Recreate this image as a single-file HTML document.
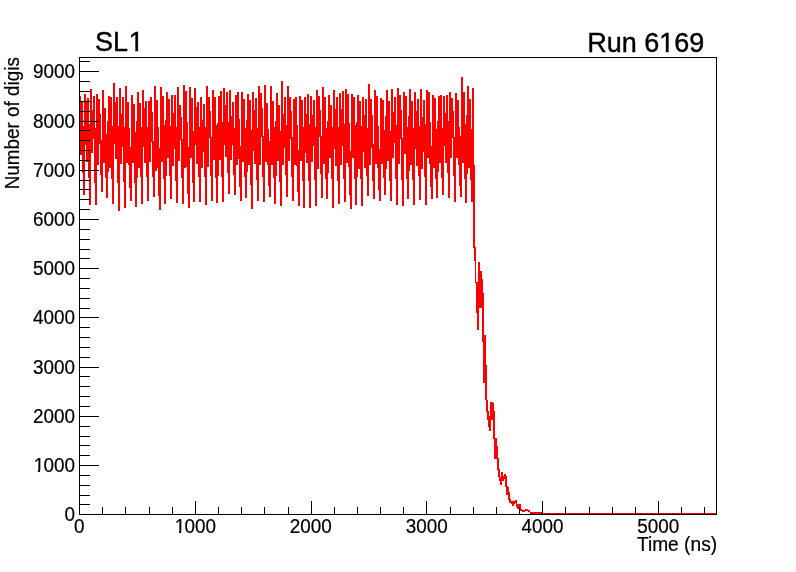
<!DOCTYPE html>
<html><head><meta charset="utf-8"><title>SL1 Run 6169</title>
<style>html,body{margin:0;padding:0;background:#fff}svg{display:block}</style>
</head><body>
<svg width="796" height="572" viewBox="0 0 796 572">
<rect width="796" height="572" fill="#fff"/>
<path fill="#ff0000" shape-rendering="crispEdges" d="M80 96h1V155h-1zM81 102h1V155h-1zM82 102h1V173h-1zM83 126h1V195h-1zM84 94h1V195h-1zM85 94h1V145h-1zM86 102h1V162h-1zM87 98h1V162h-1zM88 98h1V178h-1zM89 124h1V205h-1zM90 89h1V205h-1zM91 89h1V153h-1zM92 110h1V153h-1zM93 96h1V139h-1zM94 96h1V183h-1zM95 128h1V205h-1zM96 94h1V205h-1zM97 94h1V165h-1zM98 99h1V165h-1zM99 99h1V144h-1zM100 114h1V175h-1zM101 140h1V192h-1zM102 90h1V192h-1zM103 90h1V163h-1zM104 108h1V163h-1zM105 108h1V178h-1zM106 134h1V198h-1zM107 121h1V198h-1zM108 96h1V172h-1zM109 96h1V168h-1zM110 97h1V168h-1zM111 97h1V179h-1zM112 126h1V204h-1zM113 83h1V204h-1zM114 83h1V144h-1zM115 102h1V159h-1zM116 97h1V159h-1zM117 97h1V183h-1zM118 126h1V211h-1zM119 88h1V211h-1zM120 88h1V164h-1zM121 114h1V164h-1zM122 97h1V147h-1zM123 97h1V182h-1zM124 127h1V208h-1zM125 86h1V208h-1zM126 86h1V163h-1zM127 102h1V163h-1zM128 102h1V165h-1zM129 128h1V188h-1zM130 147h1V201h-1zM131 95h1V201h-1zM132 95h1V163h-1zM133 104h1V163h-1zM134 104h1V183h-1zM135 132h1V207h-1zM136 121h1V207h-1zM137 92h1V178h-1zM138 92h1V168h-1zM139 103h1V168h-1zM140 103h1V177h-1zM141 127h1V204h-1zM142 90h1V204h-1zM143 90h1V147h-1zM144 108h1V163h-1zM145 101h1V163h-1zM146 101h1V177h-1zM147 127h1V201h-1zM148 101h1V201h-1zM149 101h1V162h-1zM150 97h1V162h-1zM151 97h1V142h-1zM152 112h1V177h-1zM153 141h1V197h-1zM154 86h1V197h-1zM155 86h1V171h-1zM156 100h1V171h-1zM157 100h1V168h-1zM158 127h1V196h-1zM159 148h1V210h-1zM160 87h1V210h-1zM161 87h1V162h-1zM162 96h1V162h-1zM163 96h1V179h-1zM164 125h1V204h-1zM165 120h1V204h-1zM166 92h1V176h-1zM167 92h1V158h-1zM168 99h1V158h-1zM169 99h1V176h-1zM170 126h1V199h-1zM171 95h1V199h-1zM172 95h1V166h-1zM173 113h1V166h-1zM174 95h1V149h-1zM175 95h1V181h-1zM176 127h1V203h-1zM177 87h1V203h-1zM178 87h1V161h-1zM179 105h1V161h-1zM180 105h1V140h-1zM181 117h1V178h-1zM182 139h1V204h-1zM183 85h1V204h-1zM184 85h1V168h-1zM185 91h1V168h-1zM186 91h1V167h-1zM187 122h1V194h-1zM188 147h1V208h-1zM189 87h1V208h-1zM190 87h1V158h-1zM191 98h1V158h-1zM192 98h1V183h-1zM193 131h1V202h-1zM194 88h1V202h-1zM195 88h1V145h-1zM196 107h1V164h-1zM197 102h1V164h-1zM198 102h1V177h-1zM199 127h1V202h-1zM200 97h1V202h-1zM201 97h1V168h-1zM202 120h1V168h-1zM203 104h1V152h-1zM204 104h1V177h-1zM205 127h1V205h-1zM206 86h1V205h-1zM207 86h1V167h-1zM208 97h1V167h-1zM209 97h1V138h-1zM210 111h1V176h-1zM211 137h1V201h-1zM212 90h1V201h-1zM213 90h1V160h-1zM214 97h1V160h-1zM215 97h1V178h-1zM216 125h1V203h-1zM217 123h1V203h-1zM218 96h1V176h-1zM219 96h1V160h-1zM220 91h1V160h-1zM221 91h1V177h-1zM222 122h1V202h-1zM223 88h1V202h-1zM224 88h1V145h-1zM225 105h1V157h-1zM226 92h1V157h-1zM227 92h1V173h-1zM228 122h1V194h-1zM229 90h1V194h-1zM230 90h1V160h-1zM231 116h1V160h-1zM232 102h1V145h-1zM233 102h1V175h-1zM234 128h1V195h-1zM235 95h1V195h-1zM236 95h1V165h-1zM237 92h1V165h-1zM238 92h1V159h-1zM239 119h1V187h-1zM240 146h1V201h-1zM241 92h1V201h-1zM242 92h1V162h-1zM243 99h1V162h-1zM244 99h1V177h-1zM245 128h1V198h-1zM246 120h1V198h-1zM247 94h1V172h-1zM248 94h1V165h-1zM249 100h1V165h-1zM250 100h1V185h-1zM251 130h1V209h-1zM252 92h1V209h-1zM253 92h1V151h-1zM254 110h1V164h-1zM255 98h1V164h-1zM256 98h1V180h-1zM257 128h1V201h-1zM258 86h1V201h-1zM259 86h1V165h-1zM260 93h1V165h-1zM261 93h1V137h-1zM262 108h1V177h-1zM263 136h1V202h-1zM264 85h1V202h-1zM265 85h1V162h-1zM266 103h1V162h-1zM267 103h1V165h-1zM268 129h1V186h-1zM269 141h1V197h-1zM270 86h1V197h-1zM271 86h1V165h-1zM272 101h1V165h-1zM273 101h1V178h-1zM274 127h1V204h-1zM275 121h1V204h-1zM276 93h1V176h-1zM277 93h1V161h-1zM278 105h1V161h-1zM279 105h1V182h-1zM280 131h1V206h-1zM281 81h1V206h-1zM282 81h1V165h-1zM283 114h1V165h-1zM284 97h1V148h-1zM285 97h1V175h-1zM286 125h1V197h-1zM287 86h1V197h-1zM288 86h1V161h-1zM289 97h1V161h-1zM290 97h1V139h-1zM291 111h1V177h-1zM292 137h1V201h-1zM293 99h1V201h-1zM294 99h1V165h-1zM295 97h1V165h-1zM296 97h1V166h-1zM297 125h1V192h-1zM298 150h1V206h-1zM299 96h1V206h-1zM300 96h1V161h-1zM301 100h1V161h-1zM302 100h1V181h-1zM303 127h1V208h-1zM304 97h1V208h-1zM305 97h1V153h-1zM306 114h1V163h-1zM307 94h1V163h-1zM308 94h1V181h-1zM309 124h1V208h-1zM310 96h1V208h-1zM311 96h1V162h-1zM312 115h1V162h-1zM313 100h1V146h-1zM314 100h1V180h-1zM315 127h1V206h-1zM316 90h1V206h-1zM317 90h1V169h-1zM318 96h1V169h-1zM319 96h1V137h-1zM320 110h1V174h-1zM321 136h1V198h-1zM322 87h1V198h-1zM323 87h1V164h-1zM324 97h1V164h-1zM325 97h1V179h-1zM326 128h1V199h-1zM327 121h1V199h-1zM328 95h1V173h-1zM329 95h1V158h-1zM330 105h1V158h-1zM331 105h1V179h-1zM332 127h1V208h-1zM333 90h1V208h-1zM334 90h1V149h-1zM335 109h1V166h-1zM336 97h1V166h-1zM337 97h1V181h-1zM338 127h1V204h-1zM339 93h1V204h-1zM340 93h1V165h-1zM341 109h1V165h-1zM342 91h1V146h-1zM343 91h1V179h-1zM344 124h1V202h-1zM345 89h1V202h-1zM346 89h1V163h-1zM347 94h1V163h-1zM348 94h1V167h-1zM349 123h1V195h-1zM350 151h1V209h-1zM351 94h1V209h-1zM352 94h1V158h-1zM353 97h1V158h-1zM354 97h1V179h-1zM355 125h1V205h-1zM356 122h1V205h-1zM357 95h1V177h-1zM358 95h1V169h-1zM359 101h1V169h-1zM360 101h1V179h-1zM361 126h1V206h-1zM362 97h1V206h-1zM363 97h1V152h-1zM364 115h1V168h-1zM365 99h1V168h-1zM366 99h1V176h-1zM367 128h1V196h-1zM368 84h1V196h-1zM369 84h1V165h-1zM370 99h1V165h-1zM371 99h1V148h-1zM372 115h1V181h-1zM373 144h1V199h-1zM374 90h1V199h-1zM375 90h1V164h-1zM376 96h1V164h-1zM377 96h1V168h-1zM378 126h1V190h-1zM379 149h1V201h-1zM380 98h1V201h-1zM381 98h1V164h-1zM382 100h1V164h-1zM383 100h1V178h-1zM384 130h1V195h-1zM385 116h1V195h-1zM386 90h1V169h-1zM387 90h1V161h-1zM388 101h1V161h-1zM389 101h1V181h-1zM390 131h1V201h-1zM391 89h1V201h-1zM392 89h1V158h-1zM393 112h1V158h-1zM394 97h1V143h-1zM395 97h1V179h-1zM396 125h1V205h-1zM397 88h1V205h-1zM398 88h1V164h-1zM399 95h1V164h-1zM400 95h1V139h-1zM401 110h1V180h-1zM402 138h1V206h-1zM403 92h1V206h-1zM404 92h1V154h-1zM405 96h1V154h-1zM406 96h1V179h-1zM407 127h1V199h-1zM408 116h1V199h-1zM409 89h1V171h-1zM410 89h1V165h-1zM411 101h1V165h-1zM412 101h1V180h-1zM413 128h1V205h-1zM414 92h1V205h-1zM415 92h1V149h-1zM416 111h1V166h-1zM417 99h1V166h-1zM418 99h1V176h-1zM419 126h1V200h-1zM420 89h1V200h-1zM421 89h1V169h-1zM422 117h1V169h-1zM423 100h1V152h-1zM424 100h1V177h-1zM425 124h1V205h-1zM426 90h1V205h-1zM427 90h1V158h-1zM428 92h1V158h-1zM429 92h1V164h-1zM430 122h1V187h-1zM431 146h1V199h-1zM432 95h1V199h-1zM433 95h1V168h-1zM434 98h1V168h-1zM435 98h1V179h-1zM436 129h1V198h-1zM437 121h1V198h-1zM438 96h1V172h-1zM439 96h1V163h-1zM440 95h1V163h-1zM441 95h1V178h-1zM442 128h1V195h-1zM443 96h1V195h-1zM444 96h1V146h-1zM445 113h1V163h-1zM446 95h1V163h-1zM447 95h1V173h-1zM448 121h1V198h-1zM449 92h1V198h-1zM450 92h1V158h-1zM451 98h1V158h-1zM452 98h1V138h-1zM453 111h1V176h-1zM454 137h1V202h-1zM455 93h1V202h-1zM456 93h1V158h-1zM457 100h1V158h-1zM458 100h1V165h-1zM459 127h1V186h-1zM460 136h1V197h-1zM461 77h1V197h-1zM462 77h1V163h-1zM463 92h1V163h-1zM464 92h1V179h-1zM465 124h1V203h-1zM466 115h1V203h-1zM467 86h1V174h-1zM468 86h1V168h-1zM469 99h1V168h-1zM470 99h1V180h-1zM471 129h1V202h-1zM472 88h1V202h-1zM473 88h1V248h-1zM474 165h1V261h-1zM475 247h1V283h-1zM476 282h1V313h-1zM477 282h1V330h-1zM478 262h1V330h-1zM479 262h1V308h-1zM480 271h2V308h-2zM482 279h1V342h-1zM483 293h1V383h-1zM484 335h1V383h-1zM485 335h1V400h-1zM486 365h1V412h-1zM487 400h1V420h-1zM488 411h1V427h-1zM489 416h1V431h-1zM490 402h1V431h-1zM491 402h2V420h-2zM493 403h1V439h-1zM494 411h1V459h-1zM495 438h2V459h-2zM497 446h1V470h-1zM498 458h1V477h-1zM499 469h1V481h-1zM500 477h1V485h-1zM501 472h1V485h-1zM502 472h1V481h-1zM503 476h1V481h-1zM504 474h1V479h-1zM505 474h1V487h-1zM506 476h1V495h-1zM507 486h1V495h-1zM508 487h1V500h-1zM509 492h1V503h-1zM510 499h1V503h-1zM511 501h1V504h-1zM512 501h2V506h-2zM514 501h1V504h-1zM515 500h1V503h-1zM516 500h1V507h-1zM517 504h2V509h-2zM519 504h1V507h-1zM520 504h1V511h-1zM521 509h1V511h-1zM522 510h3V512h-3zM525 509h3V511h-3zM528 510h2V512h-2zM530 512h12V514h-12zM542 513h175V514h-175z"/>
<g fill="#000" shape-rendering="crispEdges">
<rect x="79" y="57" width="638" height="1"/>
<rect x="79" y="514" width="638" height="1"/>
<rect x="79" y="57" width="1" height="458"/>
<rect x="716" y="57" width="1" height="458"/>
<rect x="102" y="507" width="1" height="7"/>
<rect x="125" y="507" width="1" height="7"/>
<rect x="149" y="507" width="1" height="7"/>
<rect x="172" y="507" width="1" height="7"/>
<rect x="195" y="501" width="1" height="13"/>
<rect x="218" y="507" width="1" height="7"/>
<rect x="241" y="507" width="1" height="7"/>
<rect x="264" y="507" width="1" height="7"/>
<rect x="288" y="507" width="1" height="7"/>
<rect x="311" y="501" width="1" height="13"/>
<rect x="334" y="507" width="1" height="7"/>
<rect x="357" y="507" width="1" height="7"/>
<rect x="380" y="507" width="1" height="7"/>
<rect x="403" y="507" width="1" height="7"/>
<rect x="426" y="501" width="1" height="13"/>
<rect x="450" y="507" width="1" height="7"/>
<rect x="473" y="507" width="1" height="7"/>
<rect x="496" y="507" width="1" height="7"/>
<rect x="519" y="507" width="1" height="7"/>
<rect x="542" y="501" width="1" height="13"/>
<rect x="565" y="507" width="1" height="7"/>
<rect x="589" y="507" width="1" height="7"/>
<rect x="612" y="507" width="1" height="7"/>
<rect x="635" y="507" width="1" height="7"/>
<rect x="658" y="501" width="1" height="13"/>
<rect x="681" y="507" width="1" height="7"/>
<rect x="704" y="507" width="1" height="7"/>
<rect x="79" y="504" width="11" height="1"/>
<rect x="79" y="495" width="11" height="1"/>
<rect x="79" y="485" width="11" height="1"/>
<rect x="79" y="475" width="11" height="1"/>
<rect x="79" y="465" width="20" height="1"/>
<rect x="79" y="455" width="11" height="1"/>
<rect x="79" y="445" width="11" height="1"/>
<rect x="79" y="436" width="11" height="1"/>
<rect x="79" y="426" width="11" height="1"/>
<rect x="79" y="416" width="20" height="1"/>
<rect x="79" y="406" width="11" height="1"/>
<rect x="79" y="396" width="11" height="1"/>
<rect x="79" y="386" width="11" height="1"/>
<rect x="79" y="376" width="11" height="1"/>
<rect x="79" y="367" width="20" height="1"/>
<rect x="79" y="357" width="11" height="1"/>
<rect x="79" y="347" width="11" height="1"/>
<rect x="79" y="337" width="11" height="1"/>
<rect x="79" y="327" width="11" height="1"/>
<rect x="79" y="317" width="20" height="1"/>
<rect x="79" y="308" width="11" height="1"/>
<rect x="79" y="298" width="11" height="1"/>
<rect x="79" y="288" width="11" height="1"/>
<rect x="79" y="278" width="11" height="1"/>
<rect x="79" y="268" width="20" height="1"/>
<rect x="79" y="258" width="11" height="1"/>
<rect x="79" y="249" width="11" height="1"/>
<rect x="79" y="239" width="11" height="1"/>
<rect x="79" y="229" width="11" height="1"/>
<rect x="79" y="219" width="20" height="1"/>
<rect x="79" y="209" width="11" height="1"/>
<rect x="79" y="199" width="11" height="1"/>
<rect x="79" y="189" width="11" height="1"/>
<rect x="79" y="180" width="11" height="1"/>
<rect x="79" y="170" width="20" height="1"/>
<rect x="79" y="160" width="11" height="1"/>
<rect x="79" y="150" width="11" height="1"/>
<rect x="79" y="140" width="11" height="1"/>
<rect x="79" y="130" width="11" height="1"/>
<rect x="79" y="121" width="20" height="1"/>
<rect x="79" y="111" width="11" height="1"/>
<rect x="79" y="101" width="11" height="1"/>
<rect x="79" y="91" width="11" height="1"/>
<rect x="79" y="81" width="11" height="1"/>
<rect x="79" y="71" width="20" height="1"/>
<rect x="79" y="61" width="11" height="1"/>
</g>
<g font-family="'Liberation Sans', sans-serif" fill="#000" stroke="#000" stroke-width="0.2">
<text transform="translate(75.00,521.30) scale(1.0,1.08)" font-size="18.9" text-anchor="end">0</text>
<text transform="translate(32.95,472.30) scale(1.0,1.08)" font-size="18.9"><tspan dx="0.70">1</tspan><tspan dx="-0.70">000</tspan></text>
<text transform="translate(75.00,423.30) scale(1.0,1.08)" font-size="18.9" text-anchor="end">2000</text>
<text transform="translate(75.00,374.30) scale(1.0,1.08)" font-size="18.9" text-anchor="end">3000</text>
<text transform="translate(75.00,324.30) scale(1.0,1.08)" font-size="18.9" text-anchor="end">4000</text>
<text transform="translate(75.00,275.30) scale(1.0,1.08)" font-size="18.9" text-anchor="end">5000</text>
<text transform="translate(75.00,226.30) scale(1.0,1.08)" font-size="18.9" text-anchor="end">6000</text>
<text transform="translate(75.00,177.30) scale(1.0,1.08)" font-size="18.9" text-anchor="end">7000</text>
<text transform="translate(75.00,128.30) scale(1.0,1.08)" font-size="18.9" text-anchor="end">8000</text>
<text transform="translate(75.00,78.30) scale(1.0,1.08)" font-size="18.9" text-anchor="end">9000</text>
<text transform="translate(79.30,533.40) scale(1.0,1.08)" font-size="18.9" text-anchor="middle">0</text>
<text transform="translate(174.06,533.40) scale(1.0,1.08)" font-size="18.9"><tspan dx="0.70">1</tspan><tspan dx="-0.70">000</tspan></text>
<text transform="translate(310.86,533.40) scale(1.0,1.08)" font-size="18.9" text-anchor="middle">2000</text>
<text transform="translate(426.65,533.40) scale(1.0,1.08)" font-size="18.9" text-anchor="middle">3000</text>
<text transform="translate(542.43,533.40) scale(1.0,1.08)" font-size="18.9" text-anchor="middle">4000</text>
<text transform="translate(658.21,533.40) scale(1.0,1.08)" font-size="18.9" text-anchor="middle">5000</text>
<text transform="translate(636.9,550.7) scale(1,1.08)" font-size="18.9" textLength="80.2" lengthAdjust="spacingAndGlyphs">Time (ns)</text>
<text transform="translate(18.8,57.1) rotate(-90) scale(1,1.045)" font-size="18.9" text-anchor="end">Number of digis</text>
</g>
<g font-family="'Liberation Sans', sans-serif" fill="#000" stroke="#000" stroke-width="0.4" font-size="27">
<text transform="translate(94.9,51) scale(1,1.05)">SL<tspan dx="0.9">1</tspan></text>
<text transform="translate(704.3,52) scale(1,1.05)" text-anchor="end">Run 6169</text>
</g>
<g fill="#fff"><rect x="33.15" y="469.70" width="4.68" height="3.70"/><rect x="40.07" y="469.70" width="3.84" height="3.70"/><rect x="174.26" y="530.80" width="4.68" height="3.70"/><rect x="181.18" y="530.80" width="3.84" height="3.70"/><rect x="128.60" y="47.75" width="6.70" height="4.80"/><rect x="138.15" y="47.75" width="6.50" height="4.80"/><rect x="659.90" y="48.75" width="5.85" height="4.80"/><rect x="668.65" y="48.75" width="5.75" height="4.80"/></g>
</svg>
</body></html>
